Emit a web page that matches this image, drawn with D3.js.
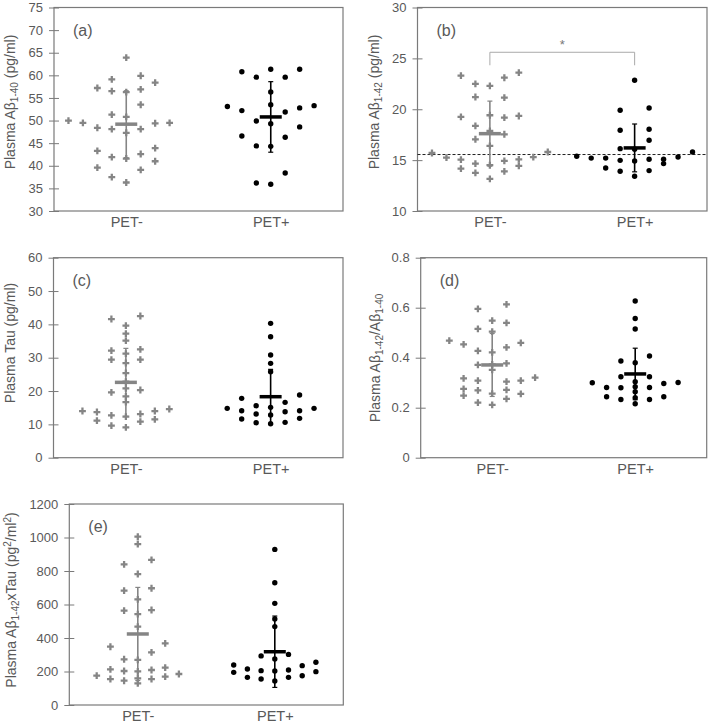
<!DOCTYPE html>
<html><head><meta charset="utf-8">
<script src="https://cdn.jsdelivr.net/npm/d3@7"></script>
<style>body{margin:0;background:#fff}svg{display:block}text{font-family:"Liberation Sans",Arial,sans-serif}</style>
</head><body>
<svg id="c" width="709" height="725"></svg>
<script>
// ---------- data ----------
const categories = ["PET-", "PET+"];
const panelLabels = ["(a)", "(b)", "(c)", "(d)", "(e)"];

// each point: [swarm lane, value]
const aNeg = [[-4,50],[-3,49.5],[-2,57.2],[-2,48.4],[-2,43.3],[-2,39.6],[-1,59.1],[-1,56.5],[-1,51.3],[-1,48.1],[-1,41.9],[-1,37.5],[0,63.9],[0,56.3],[0,50.8],[0,47.3],[0,41.6],[0,36.3],[1,59.9],[1,56.9],[1,53.5],[1,48.1],[1,42.6],[1,39.1],[2,58.4],[2,49.4],[2,43.9],[2,41.0],[3,49.5]];
const aPos = [[-3,53.1],[-2,60.8],[-2,52.2],[-2,46.6],[-1,59.6],[-1,49.9],[-1,44.4],[-1,36.2],[0,61.35],[0,56.3],[0,53.5],[0,49.3],[0,44.3],[0,35.9],[1,59.6],[1,51.9],[1,46.3],[1,38.4],[2,61.35],[2,52.8],[2,48.6],[3,53.3]];
const aStats = [[49.2, 7.4], [50.8, 7.8]]; // [mean, sd]

const bNeg = [[-4,15.7],[-3,15.25],[-2,23.3],[-2,19.25],[-2,15.05],[-2,14.16],[-1,22.5],[-1,21.2],[-1,18.36],[-1,17.05],[-1,14.66],[-1,13.74],[0,22.3],[0,19.41],[0,17.87],[0,16.4],[0,14.5],[0,13.15],[1,23.1],[1,21.15],[1,19.18],[1,17.54],[1,14.92],[1,13.9],[2,23.6],[2,19.34],[2,15.08],[2,14.43],[3,15.3],[4,15.8]];
const bPos = [[-4,15.38],[-3,15.2],[-2,15.2],[-2,14.23],[-1,19.9],[-1,17.93],[-1,16.13],[-1,14.98],[-1,13.9],[0,22.85],[0,16.07],[0,14.92],[0,13.41],[1,20.13],[1,18.03],[1,16.95],[1,15.08],[1,13.97],[2,15.08],[2,14.66],[3,15.3],[4,15.8]];
const bStats = [[17.6, 3.2], [16.2, 2.35]];
const bCutoff = 15.55;
const bBracket = 25.6;

const cNeg = [[-3,14.0],[-2,13.7],[-2,11.1],[-1,41.6],[-1,32.1],[-1,29.4],[-1,19.6],[-1,12.7],[-1,9.6],[0,39.6],[0,37.2],[0,35.1],[0,31.2],[0,28.4],[0,25.4],[0,22.8],[0,20.8],[0,18.4],[0,16.7],[0,12.3],[0,9.1],[1,42.5],[1,32.5],[1,29.4],[1,20.3],[1,13.1],[1,10.8],[2,14.0],[2,11.5],[3,14.6]];
const cPos = [[-3,14.8],[-2,17.8],[-2,14.1],[-2,11.6],[-1,15.6],[-1,13.1],[-1,10.5],[0,40.3],[0,36.3],[0,30.8],[0,28.3],[0,25.8],[0,15.1],[0,12.8],[0,10.2],[1,16.6],[1,13.8],[1,10.6],[2,18.8],[2,14.1],[2,11.8],[3,14.8]];
const cStats = [[22.6, 10.2], [18.3, 8.2]];

const dNeg = [[-3,0.468],[-2,0.453],[-2,0.317],[-2,0.275],[-2,0.248],[-1,0.595],[-1,0.515],[-1,0.427],[-1,0.371],[-1,0.308],[-1,0.269],[-1,0.22],[0,0.548],[0,0.504],[0,0.421],[0,0.373],[0,0.351],[0,0.256],[0,0.211],[1,0.613],[1,0.539],[1,0.441],[1,0.377],[1,0.304],[1,0.271],[1,0.235],[2,0.459],[2,0.308],[2,0.255],[3,0.32]];
const dPos = [[-3,0.30],[-2,0.281],[-2,0.244],[-1,0.387],[-1,0.324],[-1,0.28],[-1,0.233],[0,0.627],[0,0.557],[0,0.515],[0,0.38],[0,0.304],[0,0.284],[0,0.264],[0,0.24],[0,0.216],[1,0.407],[1,0.324],[1,0.281],[1,0.233],[2,0.297],[2,0.244],[3,0.301]];
const dStats = [[0.371, 0.126], [0.335, 0.103]];

const eNeg = [[-3,175],[-2,348],[-2,213],[-2,155],[-1,840],[-1,683],[-1,563],[-1,273],[-1,203],[-1,145],[0,1005],[0,961],[0,782],[0,631],[0,543],[0,468],[0,269],[0,201],[0,159],[0,129],[1,866],[1,697],[1,567],[1,314],[1,209],[1,155],[2,368],[2,223],[2,169],[3,185]];
const ePos = [[-3,239],[-3,195],[-2,215],[-2,165],[-1,293],[-1,205],[-1,155],[0,929],[0,730],[0,607],[0,513],[0,468],[0,275],[0,203],[0,143],[1,302],[1,209],[1,165],[2,235],[2,175],[3,255],[3,199]];
const eStats = [[424, 278], [318, 213]];

const aTicks = [30,35,40,45,50,55,60,65,70,75];
const bTicks = [10,15,20,25,30];
const cTicks = [0,10,20,30,40,50,60];
const dTicks = [0,0.2,0.4,0.6,0.8];
const eTicks = [0,200,400,600,800,1000,1200];

// ---------- layout ----------
const GREY = "#858585", TEXT = "#595959", FRAME = "#7a7a7a";
const panels = [
  {key:"a", box:[54,7.5,343,211], ticks:aTicks, neg:aNeg, pos:aPos, stats:aStats, title:[["Plasma Aβ"],["1-40","sub"],[" (pg/ml)"]], tpos:[15,102]},
  {key:"b", box:[417.5,7.5,707,211], ticks:bTicks, neg:bNeg, pos:bPos, stats:bStats, title:[["Plasma Aβ"],["1-42","sub"],[" (pg/ml)"]], tpos:[379,102]},
  {key:"c", box:[53.5,257.7,343,457.7], ticks:cTicks, neg:cNeg, pos:cPos, stats:cStats, title:[["Plasma Tau (pg/ml)"]], tpos:[15,343]},
  {key:"d", box:[420.7,257.7,706.7,457.7], ticks:dTicks, neg:dNeg, pos:dPos, stats:dStats, title:[["Plasma Aβ"],["1-42","sub"],["/Aβ"],["1-40","sub"]], tpos:[380,358], fmt:d=>d===0?"0":d3.format(".1f")(d)},
  {key:"e", box:[69.3,504,343.3,705], ticks:eTicks, neg:eNeg, pos:ePos, stats:eStats, title:[["Plasma Aβ"],["1-42","sub"],["xTau (pg"],["2","sup"],["/ml"],["2","sup"],[")"]], tpos:[16,600]}
];

const svg = d3.select("#c");

panels.forEach((p, i) => {
  const [x0,y0,x1,y1] = p.box;
  const w = x1 - x0;
  const g = svg.append("g");
  const y = d3.scaleLinear().domain(d3.extent(p.ticks)).range([y1, y0]);
  const x = d3.scalePoint().domain(categories).range([x0 + w/4, x0 + 3*w/4]);
  const lane = d3.scaleLinear().domain([-1, 1]).range([-w*0.05, w*0.05]);

  // y axis (cross ticks)
  const ya = g.append("g").attr("transform", `translate(${x0},0)`)
    .call(d3.axisLeft(y).tickValues(p.ticks).tickSize(0).tickPadding(11).tickFormat(p.fmt || (d=>d)));
  ya.select(".domain").remove();
  ya.selectAll(".tick line").attr("x1", -5).attr("x2", 5).attr("stroke", FRAME);
  ya.selectAll("text").attr("fill", TEXT).style("font-size","13px");

  // x axis labels
  const xa = g.append("g").attr("transform", `translate(0,${y1})`)
    .call(d3.axisBottom(x).tickSize(0).tickPadding(6));
  xa.select(".domain").remove();
  xa.selectAll("text").attr("fill", TEXT).style("font-size","14.5px");

  // frame
  g.append("rect").attr("x", x0).attr("y", y0).attr("width", w).attr("height", y1 - y0)
    .attr("fill","none").attr("stroke", FRAME).attr("stroke-width", 1.2);

  // panel label
  g.append("text").attr("x", x0 + 19).attr("y", y0 + 28).attr("fill", TEXT)
    .style("font-size","16px").text(panelLabels[i]);

  // axis title
  const t = g.append("text").attr("transform", `translate(${p.tpos[0]},${p.tpos[1]}) rotate(-90)`)
    .attr("text-anchor","middle").attr("fill", TEXT).style("font-size","14px");
  let shift = 0;
  p.title.forEach(([s, kind]) => {
    const ts = t.append("tspan").text(s);
    let target = kind === "sub" ? 3 : kind === "sup" ? -5 : 0;
    if (target !== shift) { ts.attr("dy", target - shift); shift = target; }
    if (kind) ts.style("font-size","10px");
  });

  // cutoff & bracket (panel b)
  if (p.key === "b") {
    g.append("line").attr("x1", x0).attr("x2", x1).attr("y1", y(bCutoff)).attr("y2", y(bCutoff))
      .attr("stroke","#222").attr("stroke-width",1).attr("stroke-dasharray","3,2");
    const by = y(bBracket);
    g.append("path").attr("d", `M${x("PET-")},${by+13}V${by}H${x("PET+")}V${by+13}`)
      .attr("fill","none").attr("stroke","#aaaaaa").attr("stroke-width",1);
    g.append("text").attr("x", (x("PET-")+x("PET+"))/2).attr("y", by - 3).attr("text-anchor","middle")
      .attr("fill","#777").style("font-size","13px").text("*");
  }

  // error bars + means
  const drawStats = (cat, [m, sd], color) => {
    const cx = x(cat);
    const eg = g.append("g");
    eg.append("line").attr("x1", cx).attr("x2", cx).attr("y1", y(m + sd)).attr("y2", y(m - sd))
      .attr("stroke", color).attr("stroke-width", 1.6);
    [m + sd, m - sd].forEach(v => eg.append("line").attr("x1", cx - 2.5).attr("x2", cx + 2.5)
      .attr("y1", y(v)).attr("y2", y(v)).attr("stroke", color).attr("stroke-width", 1.2));
    eg.append("line").attr("x1", cx - 11).attr("x2", cx + 11).attr("y1", y(m)).attr("y2", y(m))
      .attr("stroke", color).attr("stroke-width", 3.5);
  };

  // PET- : grey crosses
  drawStats("PET-", p.stats[0], GREY);
  g.append("g").selectAll("path").data(p.neg).join("path")
    .attr("d", d3.symbol(d3.symbolCross, 26))
    .attr("transform", d => `translate(${x("PET-") + lane(d[0])},${y(d[1])})`)
    .attr("fill", GREY);

  // PET+ : black dots
  drawStats("PET+", p.stats[1], "#000");
  g.append("g").selectAll("circle").data(p.pos).join("circle")
    .attr("cx", d => x("PET+") + lane(d[0])).attr("cy", d => y(d[1])).attr("r", 2.7)
    .attr("fill", "#000");
});
</script>
</body></html>
